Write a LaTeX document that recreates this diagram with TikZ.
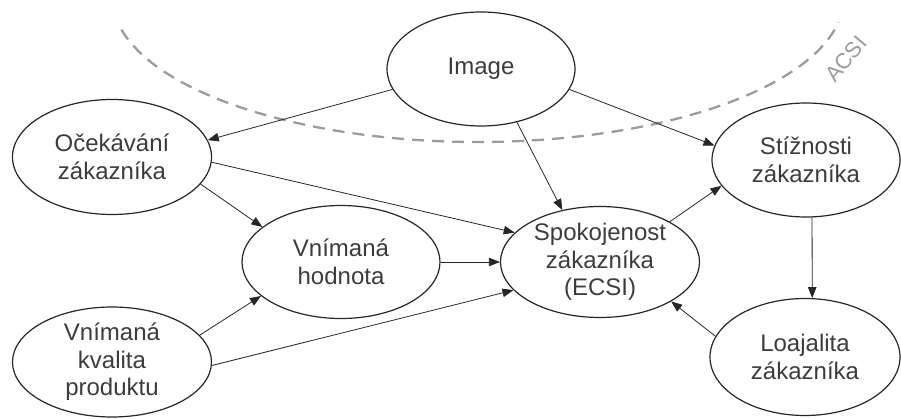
\documentclass[tikz,border=0pt]{standalone}
\usepackage{fontspec}
\setmainfont{Liberation Sans}
\usetikzlibrary{arrows.meta,shapes.geometric}
\definecolor{labelgray}{HTML}{3C3C3C}
\definecolor{acsigray}{HTML}{9C9C9C}

\begin{document}
\begin{tikzpicture}[x=1pt,y=1pt,
    oval/.style={ellipse, draw=black!85, line width=1.2pt, inner sep=0pt,
      minimum width=198pt, minimum height=113pt, align=center,
      text=labelgray, font=\fontsize{24}{27.5}\selectfont},
    link/.style={-{Triangle[length=11pt,width=8.5pt]}, draw=black!85, line width=0.8pt}]
  \useasboundingbox (0,0) rectangle (901,418);
  % ACSI boundary
  \draw[acsigray, line width=2.3pt, dash pattern=on 12pt off 8pt]
    (121.4,388.4) arc[start angle=193, end angle=350, x radius=366pt, y radius=145pt];
  \node[acsigray, rotate=50, inner sep=0pt, font=\fontsize{22}{22}\selectfont] (acsi) at (846,359) {ACSI};
  % model variables
  \node[oval, minimum width=188pt, minimum height=114pt] (image) at (481,349) {Image};
  \node[oval, minimum width=199pt, minimum height=115pt] (expect) at (112,261) {Očekávání\\zákazníka};
  \node[oval] (value) at (341,156) {Vnímaná\\hodnota};
  \node[oval, minimum width=199pt, minimum height=111pt] (satisf) at (600,156) {Spokojenost\\zákazníka\\(ECSI)};
  \node[oval, minimum width=188pt, minimum height=114pt] (complain) at (806,258) {Stížnosti\\zákazníka};
  \node[oval, minimum width=190pt, minimum height=117pt] (loyal) at (805,61) {Loajalita\\zákazníka};
  \node[oval, minimum width=199pt, minimum height=110pt] (quality) at (112,56) {Vnímaná\\kvalita\\produktu};
  % paths
  \draw[link] (image.193) -- (expect.10);
  \draw[link] (image.304) -- (satisf.126);
  \draw[link] (image.347) -- (complain.171);
  \draw[link] (expect.343) -- (value.156);
  \draw[link] (expect.357) -- (satisf.161);
  \draw[link] (value) -- (satisf);
  \draw[link] (quality.17) -- (value.203);
  \draw[link] (quality.358) -- (satisf.198);
  \draw[link] (satisf.30) -- (complain.197);
  \draw[link] (complain.276) -- (loyal.83);
  \draw[link] (loyal.167) -- (satisf.331);
\end{tikzpicture}
\end{document}
